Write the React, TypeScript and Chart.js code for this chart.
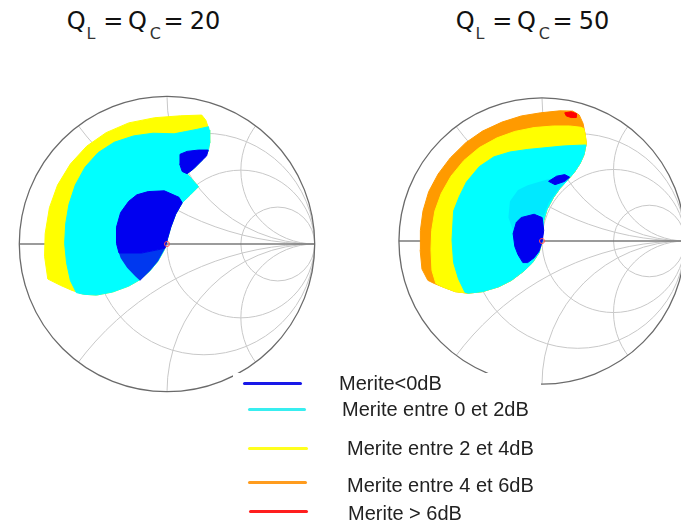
import React, { useEffect, useRef } from 'react';
import { Chart, registerables } from 'chart.js';

Chart.register(...registerables);

type P = [number, number];

// Smith chart grid values
const resistanceCircles = [1 / 3, 1, 3];
const reactanceArcs = [0.5, 1, 2, -0.5, -1, -2];

// ---- Q_L = Q_C = 20 : regions in reflection-coefficient plane (Re, Im) ----
const q20Yellow: P[] = [
  [-0.807, -0.237], [-0.829, -0.083], [-0.825, 0.07], [-0.796, 0.246], [-0.741, 0.399], [-0.654, 0.542],
  [-0.544, 0.662], [-0.412, 0.754], [-0.259, 0.82], [-0.083, 0.855], [0.092, 0.868], [0.235, 0.873],
  [0.263, 0.838], [0.285, 0.772], [0.289, 0.684], [0.279, 0.629], [0.235, 0.564], [0.18, 0.509],
  [0.136, 0.476], [0.169, 0.439], [0.213, 0.388], [0.158, 0.333], [0.103, 0.279], [0.059, 0.202],
  [0.026, 0.114], [0.004, 0.037], [-0.018, -0.039], [-0.061, -0.116], [-0.116, -0.182], [-0.182, -0.241],
  [-0.259, -0.285], [-0.368, -0.325], [-0.478, -0.346], [-0.566, -0.34], [-0.643, -0.314], [-0.719, -0.281],
];
const q20Cyan: P[] = [
  [-0.614, -0.329], [-0.654, -0.248], [-0.68, -0.127], [-0.693, 0.004], [-0.686, 0.136], [-0.664, 0.268],
  [-0.621, 0.399], [-0.555, 0.52], [-0.467, 0.618], [-0.357, 0.689], [-0.226, 0.732], [-0.094, 0.75],
  [0.048, 0.746], [0.125, 0.761], [0.202, 0.776], [0.281, 0.794], [0.285, 0.772], [0.289, 0.684],
  [0.279, 0.629], [0.235, 0.564], [0.18, 0.509], [0.136, 0.476], [0.169, 0.439], [0.213, 0.388],
  [0.158, 0.333], [0.103, 0.279], [0.059, 0.202], [0.026, 0.114], [0.004, 0.037], [-0.018, -0.039],
  [-0.061, -0.116], [-0.116, -0.182], [-0.182, -0.241], [-0.259, -0.285], [-0.368, -0.325], [-0.478, -0.346],
  [-0.566, -0.34],
];
const q20BlueDense: P[] = [
  [-0.127, 0.355], [-0.018, 0.36], [0.081, 0.316], [0.103, 0.279], [0.059, 0.202], [0.026, 0.114],
  [0.004, 0.037], [-0.013, -0.029], [-0.171, -0.061], [-0.325, -0.061], [-0.342, 0.004], [-0.342, 0.114],
  [-0.314, 0.213], [-0.259, 0.289], [-0.204, 0.333],
];
const q20BlueSparse: P[] = [
  [-0.325, -0.061], [-0.171, -0.061], [-0.013, -0.029], [-0.061, -0.116], [-0.116, -0.182], [-0.182, -0.248],
  [-0.215, -0.219], [-0.27, -0.16], [-0.314, -0.094],
];
const q20BlueSmall: P[] = [
  [0.088, 0.607], [0.136, 0.627], [0.213, 0.636], [0.279, 0.636], [0.268, 0.596], [0.235, 0.564],
  [0.18, 0.509], [0.136, 0.476], [0.103, 0.491], [0.086, 0.542],
];

// ---- Q_L = Q_C = 50 ----
const q50Orange: P[] = [
  [-0.798, -0.275], [-0.839, -0.196], [-0.852, -0.061], [-0.85, 0.074], [-0.832, 0.209], [-0.792, 0.345],
  [-0.726, 0.468], [-0.641, 0.581], [-0.533, 0.687], [-0.416, 0.768], [-0.28, 0.831], [-0.145, 0.874],
  [-0.01, 0.896], [0.125, 0.91], [0.215, 0.908], [0.26, 0.881], [0.287, 0.822], [0.301, 0.75],
  [0.31, 0.682], [0.294, 0.604], [0.267, 0.543], [0.226, 0.48], [0.177, 0.423], [0.125, 0.367],
  [0.08, 0.304], [0.035, 0.221], [0.012, 0.142], [0.006, 0.074], [0.001, -0.005], [-0.021, -0.083],
  [-0.066, -0.151], [-0.123, -0.207], [-0.213, -0.275], [-0.303, -0.32], [-0.416, -0.354], [-0.517, -0.365],
  [-0.607, -0.354], [-0.697, -0.32], [-0.753, -0.297],
];
const q50Yellow: P[] = [
  [-0.742, -0.297], [-0.769, -0.207], [-0.776, -0.061], [-0.771, 0.074], [-0.749, 0.209], [-0.704, 0.333],
  [-0.636, 0.453], [-0.546, 0.563], [-0.438, 0.653], [-0.314, 0.721], [-0.19, 0.766], [-0.055, 0.793],
  [0.08, 0.804], [0.193, 0.804], [0.271, 0.795], [0.292, 0.786], [0.301, 0.75], [0.31, 0.682],
  [0.294, 0.604], [0.267, 0.543], [0.226, 0.48], [0.177, 0.423], [0.125, 0.367], [0.08, 0.304],
  [0.035, 0.221], [0.012, 0.142], [0.006, 0.074], [0.001, -0.005], [-0.021, -0.083], [-0.066, -0.151],
  [-0.123, -0.207], [-0.213, -0.275], [-0.303, -0.32], [-0.416, -0.354], [-0.517, -0.365], [-0.607, -0.354],
  [-0.697, -0.32],
];
const q50Cyan: P[] = [
  [-0.539, -0.358], [-0.584, -0.264], [-0.618, -0.151], [-0.629, 0.007], [-0.618, 0.209], [-0.578, 0.311],
  [-0.528, 0.412], [-0.438, 0.52], [-0.337, 0.588], [-0.224, 0.622], [-0.1, 0.64], [0.035, 0.653],
  [0.147, 0.664], [0.249, 0.669], [0.307, 0.671], [0.294, 0.604], [0.267, 0.543], [0.226, 0.48],
  [0.177, 0.423], [0.125, 0.367], [0.08, 0.304], [0.035, 0.221], [0.012, 0.142], [0.006, 0.074],
  [0.001, -0.005], [-0.021, -0.083], [-0.066, -0.151], [-0.123, -0.207], [-0.213, -0.275], [-0.303, -0.32],
  [-0.416, -0.354], [-0.517, -0.365],
];
const q50BlueSparse: P[] = [
  [-0.1, 0.39], [0.035, 0.43], [0.125, 0.446], [0.17, 0.423], [0.102, 0.345], [0.046, 0.266],
  [0.012, 0.176], [-0.055, 0.191], [-0.145, 0.164], [-0.202, 0.074], [-0.235, 0.164], [-0.224, 0.277],
  [-0.168, 0.356],
];
const q50BlueStreak: P[] = [
  [0.046, 0.417], [0.102, 0.453], [0.159, 0.464], [0.193, 0.446], [0.159, 0.417], [0.091, 0.394],
];
const q50BlueBlob: P[] = [
  [-0.145, 0.164], [-0.055, 0.187], [0.001, 0.164], [0.012, 0.074], [0.001, -0.005], [-0.021, -0.072],
  [-0.055, -0.117], [-0.1, -0.151], [-0.134, -0.151], [-0.168, -0.095], [-0.19, -0.038], [-0.202, 0.052],
  [-0.179, 0.131],
];
const q50Red: P[] = [
  [0.159, 0.896], [0.204, 0.903], [0.242, 0.89], [0.238, 0.863], [0.204, 0.863], [0.17, 0.874],
];

const matchPoint: P[] = [[0, 0]];

const legendLabels = [
  'Merite<0dB',
  'Merite entre 0 et 2dB',
  'Merite entre 2 et 4dB',
  'Merite entre 4 et 6dB',
  'Merite > 6dB',
];
const legendColors = ['#1818e8', '#38eef0', '#ffff1e', '#ff9c1e', '#ff1e1e'];

const BLUE = '#0000f0';
const CYAN = '#00ffff';
const YELLOW = '#ffff00';
const ORANGE = '#ff9a00';
const RED = '#ff0000';

const smithGrid = {
  id: 'smithGrid',
  beforeDatasetsDraw(chart: any) {
    const { ctx } = chart;
    const xs = chart.scales.x;
    const ys = chart.scales.y;
    const cx = xs.getPixelForValue(0);
    const cy = ys.getPixelForValue(0);
    const rx = xs.getPixelForValue(1) - cx;
    const ry = cy - ys.getPixelForValue(1);
    ctx.save();
    ctx.beginPath();
    ctx.ellipse(cx, cy, rx, ry, 0, 0, Math.PI * 2);
    ctx.clip();
    ctx.strokeStyle = '#c8c8c8';
    ctx.lineWidth = 1;
    for (const r of resistanceCircles) {
      const c = r / (1 + r);
      const rad = 1 / (1 + r);
      ctx.beginPath();
      ctx.ellipse(xs.getPixelForValue(c), cy, rad * rx, rad * ry, 0, 0, Math.PI * 2);
      ctx.stroke();
    }
    for (const xv of reactanceArcs) {
      const rad = 1 / Math.abs(xv);
      ctx.beginPath();
      ctx.ellipse(xs.getPixelForValue(1), ys.getPixelForValue(1 / xv), rad * rx, rad * ry, 0, 0, Math.PI * 2);
      ctx.stroke();
    }
    ctx.restore();
    ctx.save();
    ctx.strokeStyle = '#7a7a7a';
    ctx.lineWidth = 1.3;
    ctx.beginPath();
    ctx.moveTo(xs.getPixelForValue(-1), cy);
    ctx.lineTo(xs.getPixelForValue(1), cy);
    ctx.stroke();
    ctx.strokeStyle = '#6a6a6a';
    ctx.lineWidth = 1.3;
    ctx.beginPath();
    ctx.ellipse(cx, cy, rx, ry, 0, 0, Math.PI * 2);
    ctx.stroke();
    ctx.restore();
  },
};

type Region = { pts: P[]; color: string; border?: boolean };

function SmithChart(props: { regions: Region[]; left: number; top: number; size: number; radius: number }) {
  const ref = useRef<HTMLCanvasElement>(null);
  const { regions, left, top, size, radius } = props;
  useEffect(() => {
    if (!ref.current) return;
    const lim = size / 2 / radius;
    const datasets: any[] = regions.map((r, i) => ({
      type: 'line',
      data: [...r.pts, r.pts[0]].map(([x, y]) => ({ x, y })),
      borderColor: r.color,
      backgroundColor: r.color,
      borderWidth: r.border === false ? 0 : 1,
      pointRadius: 0,
      fill: 'shape',
      tension: 0,
      order: regions.length - i + 1,
    }));
    datasets.push({
      type: 'line',
      data: matchPoint.map(([x, y]) => ({ x, y })),
      showLine: false,
      pointRadius: 2.5,
      pointBorderWidth: 1,
      pointBorderColor: '#ff5050',
      pointBackgroundColor: 'rgba(255,255,255,0)',
      order: 0,
    });
    const chart = new Chart(ref.current, {
      type: 'line',
      data: { datasets },
      options: {
        animation: false,
        responsive: false,
        maintainAspectRatio: false,
        events: [],
        layout: { padding: 0 },
        scales: {
          x: { type: 'linear', min: -lim, max: lim, display: false },
          y: { type: 'linear', min: -lim, max: lim, display: false },
        },
        plugins: { legend: { display: false }, tooltip: { enabled: false }, title: { display: false } },
      },
      plugins: [smithGrid],
    } as any);
    return () => chart.destroy();
  }, []);
  return (
    <canvas
      ref={ref}
      width={size}
      height={size}
      style={{ position: 'absolute', left, top, width: size, height: size }}
    />
  );
}

function Title(props: { left: number; value: string }) {
  const sub = { fontSize: 16, position: 'relative' as const, top: 10, color: '#333' };
  return (
    <div
      style={{
        position: 'absolute',
        left: props.left,
        top: 7,
        fontFamily: '"DejaVu Sans", Verdana, sans-serif',
        fontSize: 24,
        lineHeight: '28px',
        color: '#111',
        whiteSpace: 'nowrap',
      }}
    >
      Q<span style={{ ...sub, marginLeft: 1 }}>L</span> ={' '}
      <span style={{ marginLeft: -3 }}>Q</span>
      <span style={{ ...sub, marginLeft: 3 }}>C</span>
      <span style={{ marginLeft: 0 }}> </span>
      <span style={{ marginLeft: -5.2 }}>=</span> <span style={{ marginLeft: -1.4 }}>{props.value}</span>
    </div>
  );
}

export default function App() {
  const lineY = [383, 409, 448, 482, 511];
  const lineX = [243, 248, 248, 248, 249];
  const lineW = [59, 58, 60, 59, 59];
  const textX = [339, 342, 347, 347, 348];
  const textY = [383, 409, 448, 485, 513];
  return (
    <div
      style={{
        position: 'fixed',
        left: 0,
        top: 0,
        width: 681,
        height: 526,
        overflow: 'hidden',
        background: '#ffffff',
      }}
    >
      <SmithChart
        left={7.5}
        top={85}
        size={318}
        radius={152.5}
        regions={[
          { pts: q20Yellow, color: YELLOW },
          { pts: q20Cyan, color: CYAN },
          { pts: q20BlueSparse, color: 'rgba(0,0,235,0.78)', border: false },
          { pts: q20BlueDense, color: BLUE },
          { pts: q20BlueSmall, color: BLUE },
        ]}
      />
      <SmithChart
        left={391.5}
        top={91}
        size={300}
        radius={148}
        regions={[
          { pts: q50Orange, color: ORANGE },
          { pts: q50Yellow, color: YELLOW },
          { pts: q50Cyan, color: CYAN },
          { pts: q50BlueSparse, color: 'rgba(0,40,255,0.1)', border: false },
          { pts: q50BlueStreak, color: BLUE },
          { pts: q50BlueBlob, color: BLUE },
          { pts: q50Red, color: RED },
        ]}
      />
      <Title left={66.7} value="20" />
      <Title left={455.7} value="50" />
      <div
        style={{
          position: 'absolute',
          left: 233,
          top: 373,
          width: 308,
          height: 153,
          background: '#ffffff',
        }}
      />
      {legendLabels.map((label, i) => (
        <React.Fragment key={label}>
          <div
            style={{
              position: 'absolute',
              left: lineX[i],
              top: lineY[i] - 1.5,
              width: lineW[i],
              height: 3,
              background: legendColors[i],
              borderRadius: 1.5,
            }}
          />
          <div
            style={{
              position: 'absolute',
              left: textX[i],
              top: textY[i] - 12,
              fontFamily: '"Liberation Sans", Arial, sans-serif',
              fontSize: 20,
              lineHeight: '24px',
              color: '#222',
              whiteSpace: 'nowrap',
            }}
          >
            {label}
          </div>
        </React.Fragment>
      ))}
    </div>
  );
}
